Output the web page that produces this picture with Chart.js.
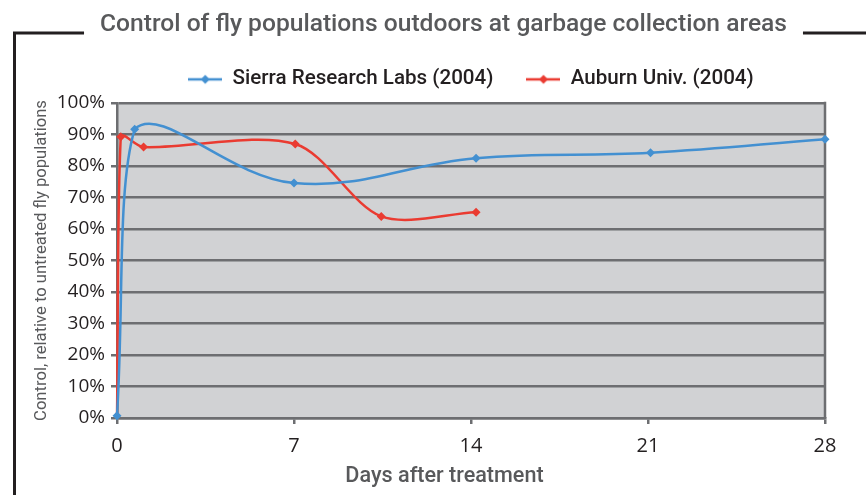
<!DOCTYPE html>
<html>
<head>
<meta charset="utf-8">
<script src="https://cdn.jsdelivr.net/npm/chart.js@4.4.1/dist/chart.umd.min.js"></script>
<style>
  html, body { margin: 0; padding: 0; background: #ffffff; }
  #wrap { width: 866px; height: 495px; }
</style>
</head>
<body>
<div id="wrap"><canvas id="c" width="866" height="495"></canvas></div>
<script>
// ---- data ----
const chartTitle = 'Control of fly populations outdoors at garbage collection areas';
const xAxisTitle = 'Days after treatment';
const yAxisTitle = 'Control, relative to untreated fly populations';
const seriesNames = ['Sierra Research Labs (2004)', 'Auburn Univ. (2004)'];
const sierraDays = [0, 0.7, 7, 14.2, 21.1, 28];
const sierraControl = [0.7, 91.7, 74.6, 82.5, 84.2, 88.5];
const auburnDays = [0, 0.15, 1.05, 7.05, 10.45, 14.2];
const auburnControl = [0, 89.3, 86, 87, 64, 65.3];
const xTicks = [0, 7, 14, 21, 28];
const yTicks = [0, 10, 20, 30, 40, 50, 60, 70, 80, 90, 100];

// ---- styles ----
const BLUE = '#4390d1';
const RED = '#ea3b31';
const GRID = '#6d6e71';
const PLOT_BG = '#d1d2d4';
const FONT = "'Open Sans', 'Noto Sans', sans-serif";
const HFONT = "Roboto, 'Open Sans', sans-serif";
const TITLE_SIZE = 24.6;
const TITLE_WEIGHT = '500';

function toPoints(xs, ys) { return xs.map((x, i) => ({ x: x, y: ys[i] })); }

function legendMarker(color) {
  const cv = document.createElement('canvas');
  cv.width = 34; cv.height = 12;
  const g = cv.getContext('2d');
  g.strokeStyle = color; g.lineWidth = 2.5;
  g.beginPath(); g.moveTo(0, 6); g.lineTo(34, 6); g.stroke();
  g.fillStyle = color;
  g.beginPath(); g.moveTo(17, 1.5); g.lineTo(21.5, 6); g.lineTo(17, 10.5); g.lineTo(12.5, 6); g.closePath(); g.fill();
  return cv;
}
const markers = [legendMarker(BLUE), legendMarker(RED)];

function shiftMethod(obj, name, dx, flag) {
  if (!obj || obj[flag]) return;
  const orig = obj[name];
  obj[name] = function () {
    const c = this.ctx; c.save(); c.translate(dx, 0);
    const r = orig.apply(this, arguments); c.restore(); return r;
  };
  obj[flag] = true;
}

const layoutPlugin = {
  id: 'layoutTweaks',
  afterLayout(chart) {
    const tb = chart.titleBlock;
    if (tb) shiftMethod(tb, 'draw', 443.5 - (tb.left + tb.right) / 2, '_sh');
    const lg = chart.legend;
    if (lg) shiftMethod(lg, 'draw', 471 - (lg.left + lg.right) / 2, '_sh');
    const xs = chart.scales.x;
    if (xs) shiftMethod(xs, 'drawTitle', 444.5 - (xs.left + xs.right) / 2, '_shT');
  },
  beforeDraw(chart) {
    const a = chart.chartArea, ctx = chart.ctx;
    ctx.save();
    ctx.fillStyle = PLOT_BG;
    ctx.fillRect(a.left, a.top, a.right - a.left, a.bottom - a.top);
    ctx.restore();
  },
  beforeDatasetsDraw(chart) {
    const a = chart.chartArea, ctx = chart.ctx;
    ctx.save();
    ctx.strokeStyle = GRID; ctx.lineWidth = 2.5;
    ctx.beginPath(); ctx.moveTo(a.right, a.top - 1.25); ctx.lineTo(a.right, a.bottom); ctx.stroke();
    ctx.restore();
  },
  afterDraw(chart) {
    const ctx = chart.ctx;
    ctx.save();
    ctx.font = TITLE_WEIGHT + ' ' + TITLE_SIZE + 'px ' + HFONT;
    const w = ctx.measureText(chartTitle).width;
    const cx = 443.5;
    const y = 33;
    ctx.strokeStyle = '#231f20'; ctx.lineWidth = 3;
    ctx.beginPath();
    ctx.moveTo(14.5, 495); ctx.lineTo(14.5, y); ctx.lineTo(cx - w / 2 - 16, y);
    ctx.moveTo(cx + w / 2 + 16, y); ctx.lineTo(866, y);
    ctx.stroke();
    ctx.restore();
  }
};

new Chart(document.getElementById('c'), {
  type: 'scatter',
  data: {
    datasets: [
      {
        label: seriesNames[0],
        data: toPoints(sierraDays, sierraControl),
        showLine: true, tension: 0.4, clip: false,
        borderColor: BLUE, backgroundColor: BLUE, borderWidth: 2.5,
        pointStyle: 'rectRot', pointRadius: 4.5, pointBorderWidth: 0,
        pointBackgroundColor: BLUE
      },
      {
        label: seriesNames[1],
        data: toPoints(auburnDays, auburnControl),
        showLine: true, tension: 0.3, clip: false,
        borderColor: RED, backgroundColor: RED, borderWidth: 2.5,
        pointStyle: 'rectRot', pointRadius: [0, 4.5, 4.5, 4.5, 4.5, 4.5], pointBorderWidth: 0,
        pointBackgroundColor: RED
      }
    ]
  },
  options: {
    responsive: false,
    animation: false,
    layout: { padding: { left: 0, right: 41, top: 0, bottom: 0 } },
    plugins: {
      title: {
        display: true, text: chartTitle, color: '#58595b',
        font: { family: HFONT, size: TITLE_SIZE, weight: TITLE_WEIGHT },
        padding: { top: 10.2, bottom: -3.7 }
      },
      subtitle: {
        display: true, text: '', weight: 500,
        font: { size: 1 }, padding: { top: 0, bottom: 2.2 }
      },
      legend: {
        display: true,
        labels: {
          color: '#231f20',
          font: { family: HFONT, size: 20.6, weight: '500' },
          usePointStyle: true, pointStyleWidth: 34, padding: 33,
          generateLabels(chart) {
            return chart.data.datasets.map((ds, i) => ({
              text: ds.label, fillStyle: ds.borderColor, strokeStyle: ds.borderColor,
              pointStyle: markers[i], lineWidth: 0, hidden: false, datasetIndex: i, fontColor: '#231f20'
            }));
          }
        }
      },
      tooltip: { enabled: false }
    },
    scales: {
      x: {
        type: 'linear', min: 0, max: 28,
        afterBuildTicks(s) { s.ticks = xTicks.map(v => ({ value: v })); },
        afterFit(s) { s.height = 77; },
        grid: { drawOnChartArea: false, drawTicks: true, tickLength: 6, color: GRID, lineWidth: 2.5 },
        border: { display: true, color: GRID, width: 2.5 },
        ticks: { color: '#231f20', font: { family: FONT, size: 20 }, padding: 10, maxRotation: 0 },
        title: {
          display: true, text: xAxisTitle, color: '#58595b',
          font: { family: HFONT, size: 21.6, weight: '500' }, padding: { top: 4, bottom: 5 }
        }
      },
      y: {
        type: 'linear', min: 0, max: 100,
        afterBuildTicks(s) { s.ticks = yTicks.map(v => ({ value: v })); },
        afterFit(s) { s.width = 117; },
        grid: { drawOnChartArea: true, drawTicks: true, tickLength: 6, color: GRID, lineWidth: 2.5 },
        border: { display: true, color: GRID, width: 2.5 },
        ticks: { color: '#231f20', font: { family: FONT, size: 19 }, padding: 6, callback: v => v + '%' },
        title: {
          display: true, text: yAxisTitle, color: '#58595b',
          font: { family: HFONT, size: 16.6 }, padding: { top: 32, bottom: 0 }
        }
      }
    }
  },
  plugins: [layoutPlugin]
});
</script>
</body>
</html>
